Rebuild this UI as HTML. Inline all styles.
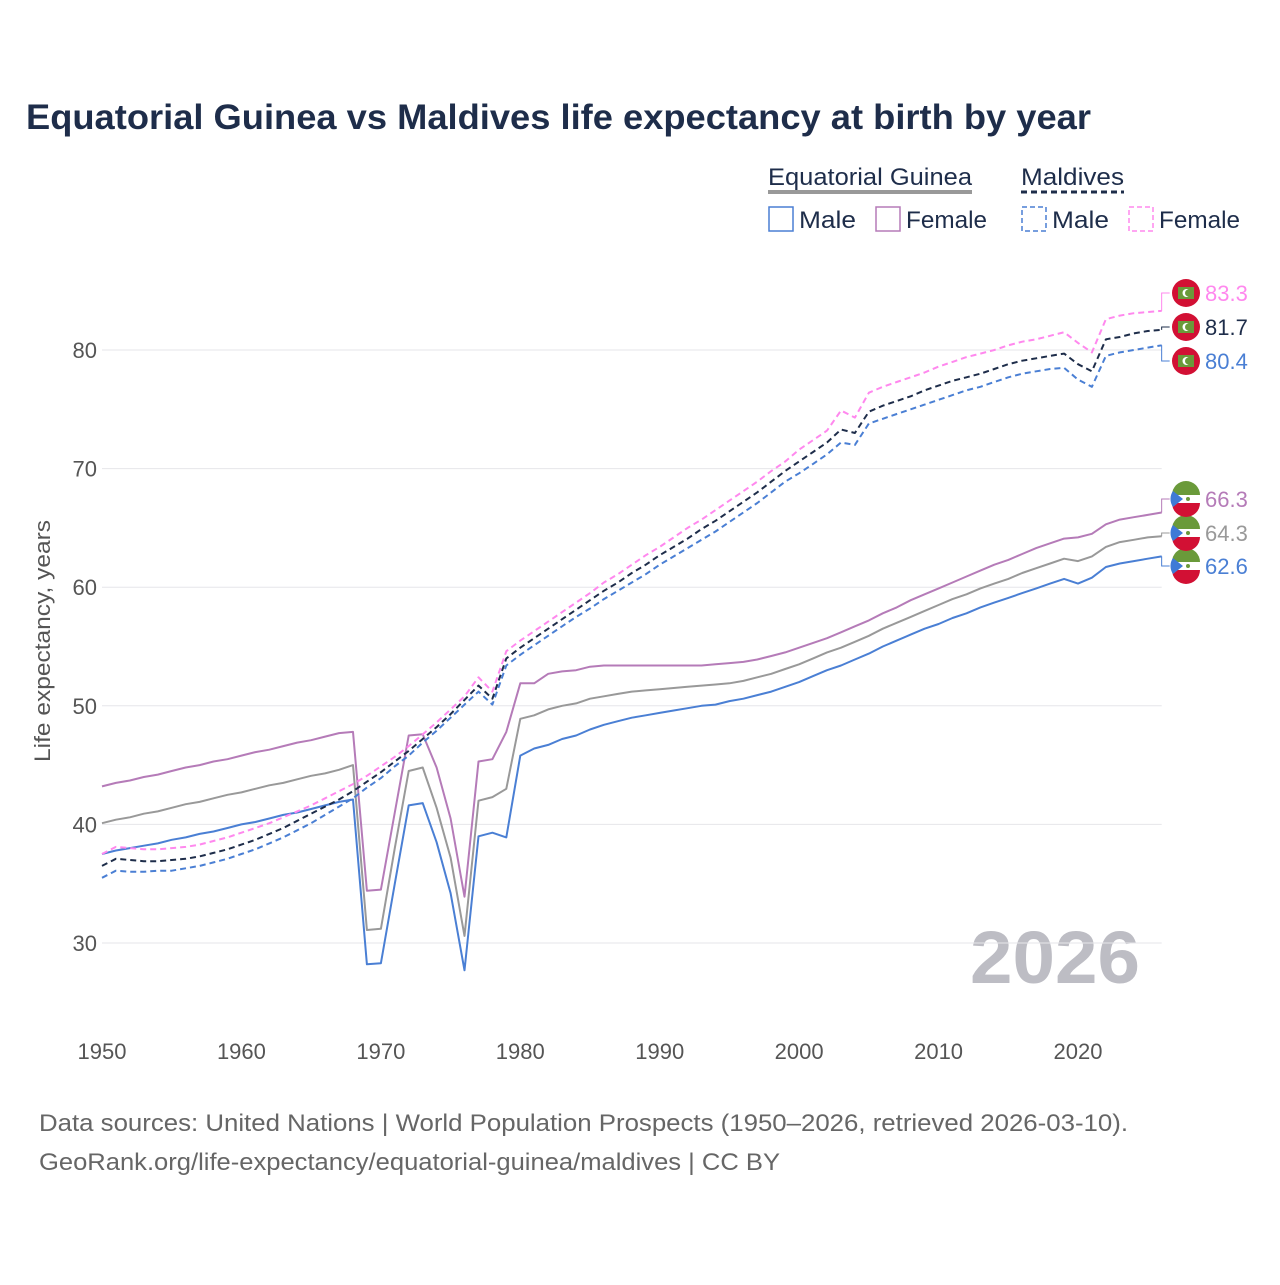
<!DOCTYPE html>
<html><head><meta charset="utf-8">
<style>
body{margin:0;background:#fff;width:1280px;height:1280px;overflow:hidden;font-family:"Liberation Sans",sans-serif;}
svg text{font-family:"Liberation Sans",sans-serif;}
</style></head>
<body>
<svg id="chart" width="1280" height="1280" viewBox="0 0 1280 1280" xmlns="http://www.w3.org/2000/svg">
<text x="26" y="129" font-size="35" font-weight="bold" fill="#1e2d4a" textLength="1065" lengthAdjust="spacingAndGlyphs">Equatorial Guinea vs Maldives life expectancy at birth by year</text>
<g font-size="24" fill="#1e2d4a">
<text x="768" y="185" textLength="204" lengthAdjust="spacingAndGlyphs">Equatorial Guinea</text>
<line x1="768" y1="192" x2="972" y2="192" stroke="#999" stroke-width="4"/>
<text x="1021" y="185" textLength="103" lengthAdjust="spacingAndGlyphs">Maldives</text>
<line x1="1021" y1="192" x2="1124" y2="192" stroke="#1e2d4a" stroke-width="3" stroke-dasharray="6,4"/>
<g><rect x="769" y="207" width="24" height="24" fill="none" stroke="#4a7fd4" stroke-width="1.5"/><text x="799" y="228" textLength="57" lengthAdjust="spacingAndGlyphs">Male</text></g>
<g><rect x="876" y="207" width="24" height="24" fill="none" stroke="#b57bb8" stroke-width="1.5"/><text x="906" y="228" textLength="81" lengthAdjust="spacingAndGlyphs">Female</text></g>
<g><rect x="1022" y="207" width="24" height="24" fill="none" stroke="#4a7fd4" stroke-width="1.5" stroke-dasharray="5,3"/><text x="1052" y="228" textLength="57" lengthAdjust="spacingAndGlyphs">Male</text></g>
<g><rect x="1129" y="207" width="24" height="24" fill="none" stroke="#ff88ee" stroke-width="1.5" stroke-dasharray="5,3"/><text x="1159" y="228" textLength="81" lengthAdjust="spacingAndGlyphs">Female</text></g>
</g>
<text transform="translate(50,641) rotate(-90)" text-anchor="middle" font-size="22" fill="#555" textLength="242" lengthAdjust="spacingAndGlyphs">Life expectancy, years</text>
<text x="1140" y="983" text-anchor="end" font-size="74" font-weight="bold" fill="#bdbdc4" textLength="170" lengthAdjust="spacingAndGlyphs">2026</text>
<text x="39" y="1131" font-size="24" fill="#666" textLength="1089" lengthAdjust="spacingAndGlyphs">Data sources: United Nations | World Population Prospects (1950–2026, retrieved 2026-03-10).</text>
<text x="39" y="1170" font-size="24" fill="#666" textLength="741" lengthAdjust="spacingAndGlyphs">GeoRank.org/life-expectancy/equatorial-guinea/maldives | CC BY</text>
<g id="grid"></g><g id="series"></g><g id="labels"></g>
</svg>
<script>
const startYear = 1950;
const yTicks = [30,40,50,60,70,80];
const xTicks = [1950,1960,1970,1980,1990,2000,2010,2020];
const eqMale = [37.5,37.8,38.0,38.2,38.4,38.7,38.9,39.2,39.4,39.7,
 40.0,40.2,40.5,40.8,41.0,41.3,41.6,41.9,42.1,28.2,
 28.3,35.0,41.6,41.8,38.5,34.2,27.7,39.0,39.3,38.9,
 45.8,46.4,46.7,47.2,47.5,48.0,48.4,48.7,49.0,49.2,
 49.4,49.6,49.8,50.0,50.1,50.4,50.6,50.9,51.2,51.6,
 52.0,52.5,53.0,53.4,53.9,54.4,55.0,55.5,56.0,56.5,
 56.9,57.4,57.8,58.3,58.7,59.1,59.5,59.9,60.3,60.7,
 60.3,60.8,61.7,62.0,62.2,62.4,62.6];
const eqFemale = [43.2,43.5,43.7,44.0,44.2,44.5,44.8,45.0,45.3,45.5,
 45.8,46.1,46.3,46.6,46.9,47.1,47.4,47.7,47.8,34.4,
 34.5,41.0,47.5,47.6,44.8,40.5,33.9,45.3,45.5,47.8,
 51.9,51.9,52.7,52.9,53.0,53.3,53.4,53.4,53.4,53.4,
 53.4,53.4,53.4,53.4,53.5,53.6,53.7,53.9,54.2,54.5,
 54.9,55.3,55.7,56.2,56.7,57.2,57.8,58.3,58.9,59.4,
 59.9,60.4,60.9,61.4,61.9,62.3,62.8,63.3,63.7,64.1,
 64.2,64.5,65.3,65.7,65.9,66.1,66.3];
const eqTotal = [40.1,40.4,40.6,40.9,41.1,41.4,41.7,41.9,42.2,42.5,
 42.7,43.0,43.3,43.5,43.8,44.1,44.3,44.6,45.0,31.1,
 31.2,38.0,44.5,44.8,41.4,37.2,30.6,42.0,42.3,43.0,
 48.9,49.2,49.7,50.0,50.2,50.6,50.8,51.0,51.2,51.3,
 51.4,51.5,51.6,51.7,51.8,51.9,52.1,52.4,52.7,53.1,
 53.5,54.0,54.5,54.9,55.4,55.9,56.5,57.0,57.5,58.0,
 58.5,59.0,59.4,59.9,60.3,60.7,61.2,61.6,62.0,62.4,
 62.2,62.6,63.4,63.8,64.0,64.2,64.3];
const mvTotal = [36.5,37.1,37.0,36.9,36.9,37.0,37.1,37.3,37.6,37.9,
 38.3,38.7,39.2,39.7,40.3,40.9,41.5,42.1,42.8,43.6,
 44.4,45.3,46.2,47.2,48.2,49.3,50.5,51.7,50.6,54.0,
 54.9,55.7,56.5,57.3,58.1,58.9,59.7,60.4,61.2,61.9,
 62.7,63.4,64.1,64.9,65.6,66.4,67.2,68.0,68.9,69.8,
 70.6,71.4,72.2,73.3,73.0,74.8,75.3,75.7,76.1,76.6,
 77.0,77.4,77.7,78.0,78.4,78.8,79.1,79.3,79.5,79.7,
 78.8,78.2,80.9,81.1,81.4,81.6,81.7];
const mvMale = [35.5,36.1,36.0,36.0,36.1,36.1,36.3,36.5,36.8,37.1,
 37.5,37.9,38.4,38.9,39.5,40.1,40.8,41.5,42.2,43.1,
 43.9,44.9,45.8,46.9,47.9,49.0,50.1,51.2,50.1,53.4,
 54.3,55.1,55.9,56.7,57.5,58.2,59.0,59.7,60.4,61.1,
 61.9,62.6,63.3,64.0,64.7,65.5,66.3,67.1,68.0,68.9,
 69.6,70.4,71.2,72.2,72.0,73.8,74.2,74.6,75.0,75.4,
 75.8,76.2,76.6,76.9,77.3,77.7,78.0,78.2,78.4,78.5,
 77.5,76.9,79.5,79.8,80.0,80.2,80.4];
const mvFemale = [37.5,38.1,38.0,37.9,37.9,38.0,38.1,38.3,38.6,38.9,
 39.3,39.7,40.1,40.6,41.1,41.6,42.2,42.8,43.4,44.1,
 44.9,45.7,46.6,47.6,48.6,49.7,50.8,52.4,51.2,54.6,
 55.5,56.3,57.1,57.9,58.7,59.5,60.4,61.1,61.9,62.7,
 63.4,64.2,65.0,65.7,66.5,67.3,68.1,68.9,69.8,70.6,
 71.6,72.4,73.2,74.9,74.3,76.4,76.9,77.3,77.7,78.1,
 78.6,79.0,79.4,79.7,80.0,80.4,80.7,80.9,81.2,81.5,
 80.6,79.8,82.6,82.9,83.1,83.2,83.3];

const NS="http://www.w3.org/2000/svg";
const X0=102, X1=1161.7;
function xs(yr){return X0+(yr-1950)*(1078-102)/70;}
function ys(v){return 350+(80-v)*(943-350)/50;}
function mk(tag,attrs,parent){const e=document.createElementNS(NS,tag);for(const k in attrs)e.setAttribute(k,attrs[k]);parent.appendChild(e);return e;}
const grid=document.getElementById('grid'), ser=document.getElementById('series'), lab=document.getElementById('labels');
yTicks.forEach(t=>{
 const l=mk('line',{x1:X0,x2:X1,y1:ys(t),y2:ys(t),stroke:'#e6e6ea','stroke-width':1},grid);
 
 
 const tx=mk('text',{x:97,y:ys(t)+8,'text-anchor':'end','font-size':22,fill:'#555'},grid);
 tx.textContent=t;
 
 
});
xTicks.forEach(t=>{
 const tx=mk('text',{x:xs(t),y:1059,'text-anchor':'middle','font-size':22,fill:'#555'},grid);
 tx.textContent=t;
 
 
});
const defs=[
 {d:eqMale,c:'#4a7fd4',dash:null,n:'eq-male',ly:566,flag:'eq',tc:'#4a7fd4'},
 {d:eqTotal,c:'#999',dash:null,n:'eq-total',ly:533,flag:'eq',tc:'#999'},
 {d:eqFemale,c:'#b57bb8',dash:null,n:'eq-female',ly:499,flag:'eq',tc:'#b57bb8'},
 {d:mvMale,c:'#4a7fd4',dash:'6,4',n:'mv-male',ly:361,flag:'mv',tc:'#4a7fd4'},
 {d:mvFemale,c:'#ff88ee',dash:'6,4',n:'mv-female',ly:293,flag:'mv',tc:'#ff88ee'},
 {d:mvTotal,c:'#1e2d4a',dash:'6,4',n:'mv-total',ly:327,flag:'mv',tc:'#1e2d4a'}
];
defs.forEach(s=>{
 const pts=s.d.map((v,i)=>xs(startYear+i).toFixed(1)+','+ys(v).toFixed(1)).join(' ');
 const a={points:pts,fill:'none',stroke:s.c,'stroke-width':2,'stroke-linejoin':'round'};
 if(s.dash)a['stroke-dasharray']=s.dash;
 const p=mk('polyline',a,ser);
 
 
 const last=s.d[s.d.length-1], lx=xs(startYear+s.d.length-1), lyv=ys(last);
 const con=mk('polyline',{points:`${lx},${lyv} ${lx},${s.ly} ${lx+8},${s.ly}`,fill:'none',stroke:s.c,'stroke-width':1},lab);
 
 
 const g=mk('g',{},lab);
 
 
 const cx=1186, cy=s.ly;
 if(s.flag==='mv'){
  mk('circle',{cx,cy,r:14,fill:'#d21034'},g);
  mk('rect',{x:cx-8,y:cy-6,width:16,height:12,fill:'#6a9a3a'},g);
  mk('circle',{cx:cx+0.5,cy,r:4,fill:'#fff'},g);
  mk('circle',{cx:cx+2.5,cy,r:3.5,fill:'#6a9a3a'},g);
 } else {
  mk('circle',{cx,cy,r:14,fill:'#fff'},g);
  mk('path',{d:`M${cx-14},${cy-4} A14,14 0 0 1 ${cx+14},${cy-4} Z`,fill:'#6a9a3a'},g);
  mk('path',{d:`M${cx-14},${cy+4} A14,14 0 0 0 ${cx+14},${cy+4} Z`,fill:'#d21034'},g);
  mk('path',{d:`M${cx-13},${cy-8} L${cx-3},${cy} L${cx-13},${cy+8} A14,14 0 0 1 ${cx-13},${cy-8} Z`,fill:'#3e7ad6'},g);
  mk('circle',{cx:cx+2,cy,r:2,fill:'#6a9a3a'},g);
 }
 const t=mk('text',{x:1205,y:s.ly+8,'font-size':22,fill:s.tc},lab);
 t.textContent=last.toFixed(1);
 
 
});
</script>
</body></html>
